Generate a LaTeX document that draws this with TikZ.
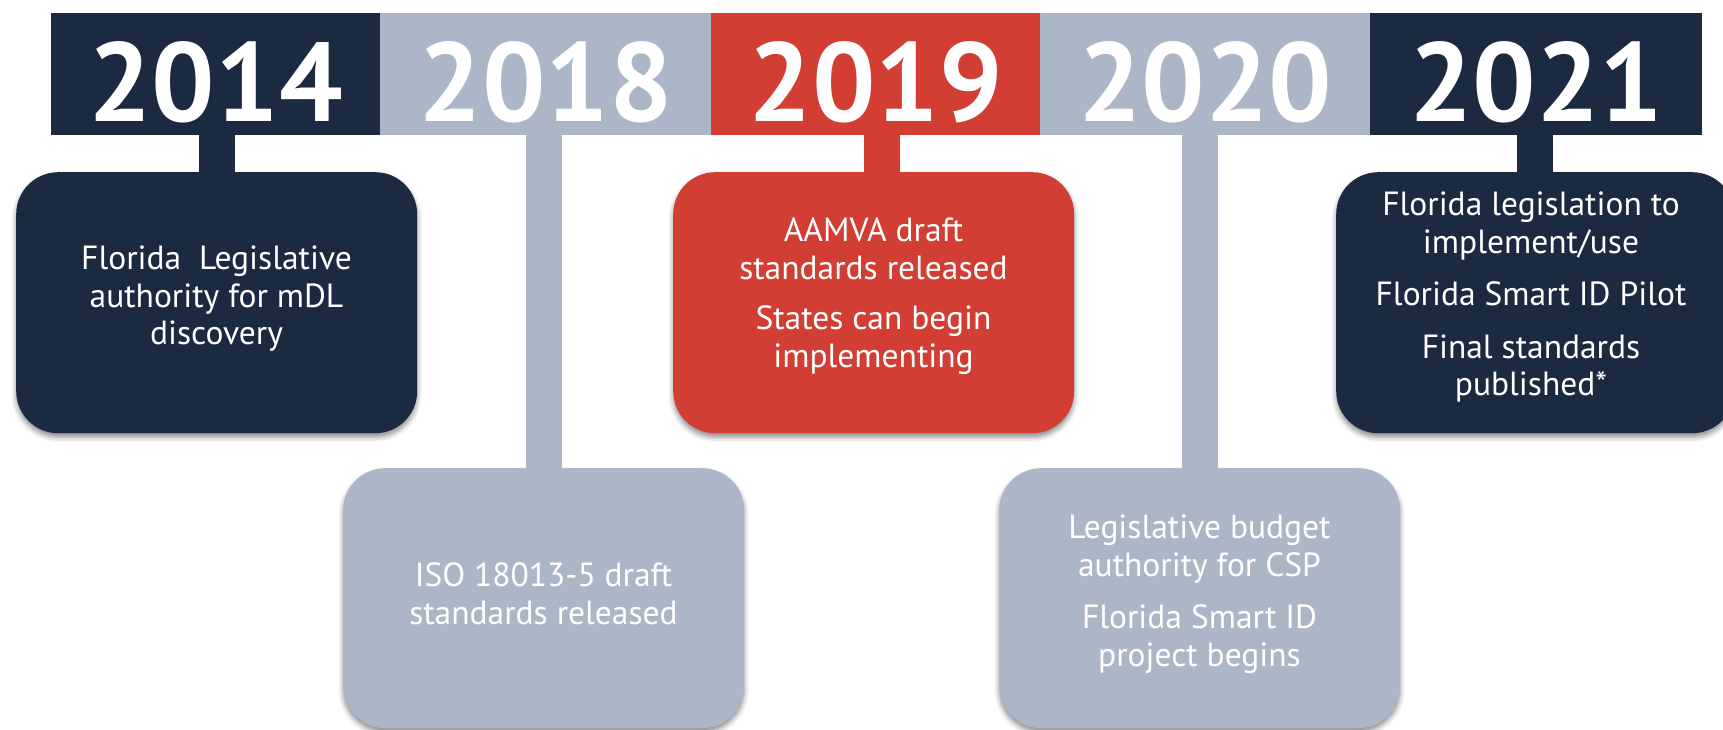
\documentclass[tikz,border=0pt]{standalone}
\usepackage{fontspec}
\setmainfont{PT Sans}
\usetikzlibrary{shadows.blur,calc}
\definecolor{navy}{HTML}{1C2A41}
\definecolor{slate}{HTML}{ABB6C7}
\definecolor{brick}{HTML}{D23E34}
\begin{document}
\begin{tikzpicture}[x=1pt,y=-1pt,
  header/.style={fill=#1, draw=none, inner sep=0pt, anchor=north west},
  yeartxt/.style={text=white, font=\fontsize{112}{112}\selectfont\bfseries, anchor=base, inner sep=0pt},
  card/.style={fill=#1, draw=none, rounded corners=42pt, inner sep=0pt, anchor=north west,
    blur shadow={shadow xshift=0pt, shadow yshift=-4pt, shadow blur radius=5pt, shadow opacity=45}},
  cardtxt/.style={text=white, font=\fontsize{33.5}{37.5}\selectfont, align=center, inner sep=0pt},
  stem/.style={draw=#1, line width=36pt}
]
\path[use as bounding box] (0,0) rectangle (1723,730);
\clip (0,0) rectangle (1723,730);

% header bar
\node[header=navy,  minimum width=329pt, minimum height=122pt] (h2014) at (51,13) {};
\node[header=slate, minimum width=331pt, minimum height=122pt] (h2018) at (380,13) {};
\node[header=brick, minimum width=329pt, minimum height=122pt] (h2019) at (711,13) {};
\node[header=slate, minimum width=330pt, minimum height=122pt] (h2020) at (1040,13) {};
\node[header=navy,  minimum width=332pt, minimum height=122pt] (h2021) at (1370,13) {};

\node[yeartxt] (t2014) at (215.5,122) {2014};
\node[yeartxt] (t2018) at (545.5,122) {2018};
\node[yeartxt] (t2019) at (875.5,122) {2019};
\node[yeartxt] (t2020) at (1205,122) {2020};
\node[yeartxt] (t2021) at (1536,122) {2021};

% cards
\node[card=navy,  minimum width=401pt, minimum height=261pt] (b2014) at (16,172) {};
\node[card=slate, minimum width=401pt, minimum height=260pt] (b2018) at (343,468) {};
\node[card=brick, minimum width=401pt, minimum height=261pt] (b2019) at (673,172) {};
\node[card=slate, minimum width=401pt, minimum height=260pt] (b2020) at (999,468) {};
\node[card=navy,  minimum width=398pt, minimum height=261pt] (b2021) at (1336,172) {};

% stems
\draw[stem=navy]  (h2014.south -| b2014.north) -- (b2014.north);
\draw[stem=slate] (h2018.south -| b2018.north) -- (b2018.north);
\draw[stem=brick] ($(h2019.south -| b2019.north)+(8,0)$) -- ($(b2019.north)+(8,0)$);
\draw[stem=slate] (h2020.south -| b2020.north) -- (b2020.north);
\draw[stem=navy]  (h2021.south -| b2021.north) -- (b2021.north);

% card texts
\node[cardtxt] (c2014) at (216.5,299) {Florida\ \ Legislative\\authority for mDL\\discovery};
\node[cardtxt] (c2018) at (543.5,594) {ISO 18013-5 draft\\standards released};
\node[cardtxt] (c2019) at (873.5,296) {AAMVA draft\\standards released\\[13pt]States can begin\\implementing};
\node[cardtxt] (c2020) at (1199.5,594) {Legislative budget\\authority for CSP\\[15pt]Florida Smart ID\\project begins};
\node[cardtxt] (c2021) at (1531,297) {Florida legislation to\\implement/use\\[15pt]Florida Smart ID Pilot\\[15pt]Final standards\\published*};
\end{tikzpicture}
\end{document}
